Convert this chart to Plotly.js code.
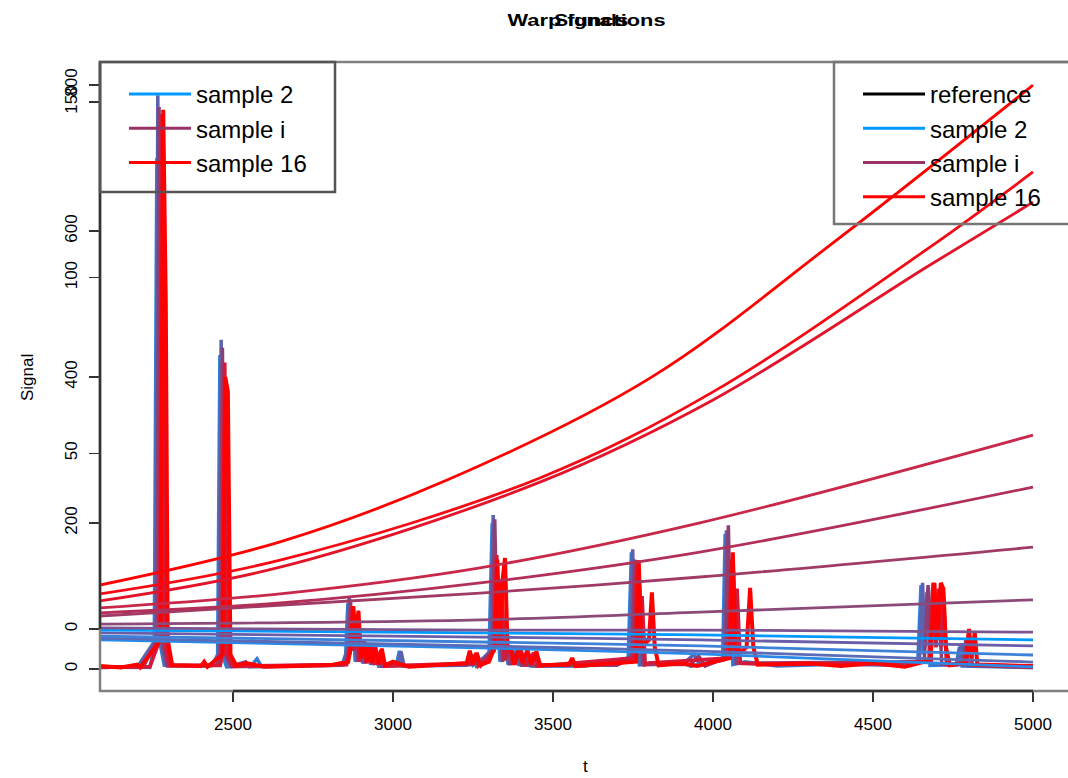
<!DOCTYPE html>
<html>
<head>
<meta charset="utf-8">
<script src="https://cdn.plot.ly/plotly-3.0.1.min.js"></script>
<style>html,body{margin:0;padding:0;background:#fff;}#chart{width:1068px;height:778px;}</style>
</head>
<body>
<div id="chart"></div>
<script>
// ---------- tick values ----------
const tTicks = [2500, 3000, 3500, 4000, 4500, 5000];
const signalTicks = [0, 200, 400, 600, 800];
const warpTicks = [0, 50, 100, 150];

// ---------- signals (t, signal) ----------
const signalSample2 = [[2084,2],[2180,3],[2240,2],[2254,30],[2262,700],[2270,40],[2285,5],[2420,4],[2440,8],[2452,20],[2459,430],[2466,20],[2480,3],[2560,6],[2575,14],[2590,3],[2840,5],[2852,20],[2859,90],[2866,20],[2875,60],[2882,10],[2895,30],[2905,8],[2920,25],[2930,6],[2945,20],[2955,4],[3010,5],[3020,25],[3030,4],[3230,5],[3240,18],[3250,5],[3300,20],[3310,200],[3318,30],[3326,100],[3334,10],[3350,30],[3360,6],[3380,24],[3392,5],[3420,20],[3430,4],[3600,4],[3735,15],[3745,160],[3753,20],[3760,110],[3770,6],[3800,8],[3900,10],[3930,4],[4030,12],[4038,185],[4046,20],[4052,130],[4062,6],[4100,10],[4200,4],[4640,10],[4650,115],[4657,20],[4668,105],[4678,5],[4760,6],[4770,30],[4778,4],[5000,2]];
const signalSampleB = [[2084,3],[2200,2],[2258,40],[2265,786],[2273,40],[2290,5],[2430,4],[2455,20],[2463,451],[2471,20],[2490,4],[2540,10],[2550,3],[2845,6],[2856,25],[2863,99],[2870,25],[2878,55],[2886,10],[2898,32],[2908,8],[2925,28],[2935,6],[2950,22],[2960,4],[3015,6],[3025,24],[3035,4],[3240,6],[3250,20],[3260,5],[3305,25],[3313,211],[3321,30],[3329,110],[3337,12],[3352,32],[3362,6],[3385,25],[3398,5],[3425,20],[3438,4],[3650,5],[3740,15],[3749,164],[3757,25],[3764,120],[3774,6],[3910,8],[3940,20],[3960,5],[4033,15],[4042,190],[4050,25],[4057,140],[4067,8],[4600,5],[4645,12],[4655,118],[4662,30],[4673,112],[4683,8],[4765,6],[4775,35],[4783,5],[5000,3]];
const signalSampleI = [[2084,2],[2220,3],[2262,40],[2269,770],[2277,40],[2295,4],[2450,5],[2459,20],[2467,440],[2475,20],[2495,3],[2850,6],[2860,25],[2867,95],[2874,25],[2882,55],[2890,10],[2902,30],[2912,8],[2928,26],[2938,6],[2955,20],[2965,4],[3245,6],[3255,18],[3265,4],[3310,25],[3318,205],[3326,30],[3334,105],[3342,10],[3357,30],[3367,6],[3390,24],[3402,5],[3700,5],[3746,15],[3755,150],[3763,25],[3771,115],[3781,6],[3930,6],[3955,18],[3975,4],[4038,15],[4048,197],[4056,25],[4064,135],[4074,8],[4660,10],[4672,115],[4680,30],[4690,118],[4698,30],[4705,100],[4715,6],[4780,6],[4790,40],[4798,5],[5000,2]];
const signalSampleC = [[2084,3],[2240,3],[2271,40],[2278,760],[2286,40],[2300,5],[2460,5],[2466,20],[2474,420],[2482,20],[2500,4],[2855,6],[2866,25],[2873,86],[2880,25],[2888,60],[2896,10],[2908,35],[2918,8],[2934,30],[2944,6],[2962,25],[2975,4],[3250,8],[3262,22],[3275,5],[3316,25],[3324,156],[3332,30],[3340,120],[3348,12],[3365,32],[3375,6],[3400,26],[3412,5],[3440,22],[3450,4],[3752,15],[3762,149],[3770,25],[3778,100],[3788,6],[3800,8],[4046,15],[4058,150],[4066,25],[4075,110],[4085,8],[4200,6],[4675,10],[4688,118],[4696,30],[4705,110],[4713,30],[4720,100],[4730,6],[4790,8],[4800,50],[4810,6],[5000,3]];
const signalSample16 = [[2084,4],[2150,2],[2200,6],[2210,2],[2274,40],[2282,766],[2290,500],[2296,40],[2310,5],[2400,4],[2410,10],[2420,3],[2468,20],[2476,400],[2484,380],[2492,20],[2510,5],[2540,8],[2600,3],[2800,5],[2860,10],[2868,30],[2876,86],[2884,40],[2892,80],[2900,15],[2910,40],[2918,10],[2926,35],[2934,8],[2945,30],[2955,6],[2965,28],[2975,5],[3000,10],[3050,3],[3230,8],[3240,25],[3250,6],[3260,22],[3270,5],[3300,10],[3318,30],[3326,150],[3334,40],[3342,120],[3350,152],[3358,30],[3370,28],[3380,6],[3395,30],[3405,8],[3420,26],[3432,6],[3448,24],[3460,5],[3550,6],[3560,15],[3570,4],[3760,10],[3768,149],[3776,30],[3800,40],[3809,105],[3818,30],[3830,5],[3900,8],[3950,4],[4052,15],[4062,160],[4070,30],[4080,20],[4105,30],[4116,111],[4126,30],[4140,6],[4300,8],[4400,4],[4500,8],[4600,3],[4680,12],[4692,118],[4700,40],[4712,118],[4720,110],[4728,30],[4740,5],[4790,8],[4800,55],[4808,15],[4818,50],[4826,6],[5000,4]];

// ---------- warp functions (t, warp) ----------
const warpRed1T = [2084, 2647, 3169, 3803, 4375, 5000];
const warpRed1 = [12.5, 24.8, 42.4, 71.4, 109.9, 154.8];
const warpRed23T = [2084, 2647, 3459, 4000, 4678, 5000];
const warpRed2 = [10.0, 19.6, 43.0, 67.5, 108.7, 130.1];
const warpRed3 = [8.0, 17.6, 41.8, 65.2, 103.6, 121.5];
const warpMidT = [2084, 2647, 3272, 3959, 5000];
const warpC1 = [6.0, 10.0, 17.4, 30.2, 55.2];
const warpC2 = [4.6, 7.4, 13.1, 21.9, 40.4];
const warpLowT = [2084, 3272, 3959, 5000];
const warpC3 = [3.7, 10.2, 14.8, 23.3];
const warpP1 = [1.4, 2.6, 4.8, 8.3];
const warpP2 = [0.3, -0.3, -0.3, -0.9];
const warpB1 = [-0.3, -1.1, -1.7, -3.1];
const warpP3 = [-1.1, -2.3, -3.1, -4.8];
const warpB2 = [-2.0, -3.7, -4.8, -7.4];
const warpB3 = [-2.6, -4.8, -6.3, -9.4];
const warpB4 = [-3.1, -5.4, -7.1, -10.8];

// ---------- legends ----------
const legendLeftNames = ['sample 2', 'sample i', 'sample 16'];
const legendLeftColors = ['#0099ff', '#993366', '#ff0000'];
const legendRightNames = ['reference', 'sample 2', 'sample i', 'sample 16'];
const legendRightColors = ['#000000', '#0099ff', '#993366', '#ff0000'];

const FONT = 'Liberation Sans, Arial, sans-serif';
const traces = [];

function sig(pairs, color, width) {
  traces.push({type:'scatter', mode:'lines', x:pairs.map(p=>p[0]), y:pairs.map(p=>p[1]),
    xaxis:'x', yaxis:'y', line:{color:color, width:width}, showlegend:false, hoverinfo:'skip'});
}
sig(signalSample2, '#2d7fd6', 3.5);
sig(signalSampleB, '#5d62b0', 3.5);
sig(signalSampleI, '#8e3f72', 3.5);
sig(signalSampleC, '#d41a3a', 3.8);
sig(signalSample16, '#ff0000', 4);

function warp(t, v, color) {
  traces.push({type:'scatter', mode:'lines', x:t, y:v, xaxis:'x', yaxis:'y2',
    line:{color:color, width:2.8, shape:'spline', smoothing:1}, showlegend:false, hoverinfo:'skip'});
}
warp(warpLowT, warpB4, '#2a8ae8');
warp(warpLowT, warpB3, '#5a6cb8');
warp(warpLowT, warpB2, '#3d82d8');
warp(warpLowT, warpP3, '#6a5ea8');
warp(warpLowT, warpB1, '#0099ff');
warp(warpLowT, warpP2, '#7c5590');
warp(warpLowT, warpP1, '#8c4a7a');
warp(warpLowT, warpC3, '#a03a66');
warp(warpMidT, warpC2, '#b23058');
warp(warpMidT, warpC1, '#c8284a');
warp(warpRed23T, warpRed3, '#e3142a');
warp(warpRed23T, warpRed2, '#f50a14');
warp(warpRed1T, warpRed1, '#ff0000');

legendLeftNames.forEach((n, i) => traces.push({type:'scatter', mode:'lines', x:[null], y:[null], name:n,
  line:{color:legendLeftColors[i], width:3}, legend:'legend', showlegend:true, hoverinfo:'skip'}));
legendRightNames.forEach((n, i) => traces.push({type:'scatter', mode:'lines', x:[null], y:[null], name:n,
  line:{color:legendRightColors[i], width:3}, legend:'legend2', showlegend:true, hoverinfo:'skip'}));

const yA = [-30.137, 831.507];
const yB = [-17.647, 161.385];
const axisCommon = {showgrid:false, zeroline:false, showline:false, ticks:'outside', ticklen:10, tickwidth:1.5,
  tickcolor:'#333', tickfont:{family:FONT, size:17, color:'#000'}};

const legendCommon = {xanchor:'left', yanchor:'top', bgcolor:'rgba(0,0,0,0)', borderwidth:0,
  font:{family:FONT, size:24, color:'#000'}, itemwidth:62, tracegroupgap:0};

const layout = {
  width:1068, height:778,
  margin:{l:100, r:0, t:62, b:87},
  paper_bgcolor:'#fff', plot_bgcolor:'#fff',
  font:{family:FONT, color:'#000'},
  xaxis:Object.assign({}, axisCommon, {range:[2084.375, 5109.375], tickvals:tTicks, ticktext:tTicks.map(String),
    ticklabelstandoff:8}),
  yaxis:Object.assign({}, axisCommon, {range:yA, tickvals:signalTicks, ticktext:signalTicks.map(String), tickangle:-90, ticklabelstandoff:5}),
  yaxis2:Object.assign({}, axisCommon, {range:yB, overlaying:'y', side:'left', tickvals:warpTicks, ticktext:warpTicks.map(String), tickangle:-90, ticklabelstandoff:5}),
  legend:Object.assign({}, legendCommon, {x:24/968, y:(691-72)/629}),
  legend2:Object.assign({}, legendCommon, {x:758/968, y:(691-72)/629}),
  shapes:[
    {type:'rect', xref:'paper', yref:'paper', x0:0, x1:1.2, y0:0, y1:1, line:{color:'#808080', width:2.5}, layer:'above'},
    {type:'line', xref:'paper', yref:'y2', x0:0, x1:0, y0:warpTicks[0], y1:yB[1], line:{color:'#333', width:2.5}, layer:'above'},
    {type:'line', xref:'x', yref:'paper', x0:tTicks[0], x1:tTicks[tTicks.length-1], y0:0, y1:0, line:{color:'#333', width:2.5}, layer:'above'},
    {type:'rect', xref:'paper', yref:'paper', x0:0, x1:235/968, y0:(691-192)/629, y1:1, line:{color:'#555', width:2.5}, layer:'above'},
    {type:'rect', xref:'paper', yref:'paper', x0:734/968, x1:1.2, y0:(691-224)/629, y1:1, line:{color:'#777', width:2.5}, layer:'above'}
  ],
  annotations:[
    {text:'Warp functions', xref:'paper', yref:'paper', x:(586-100)/968, y:(691-20)/629, showarrow:false,
      font:{family:FONT, size:17, weight:700, color:'#000'}, xanchor:'center', yanchor:'middle'},
    {text:'Signals', xref:'paper', yref:'paper', x:(591-100)/968, y:(691-20)/629, showarrow:false,
      font:{family:FONT, size:17, weight:700, color:'#000'}, xanchor:'center', yanchor:'middle'},
    {text:'Signal', xref:'paper', yref:'paper', x:(28-100)/968, y:(691-378)/629, showarrow:false, textangle:-90,
      font:{family:FONT, size:17, color:'#000'}, xanchor:'center', yanchor:'middle'},
    {text:'t', xref:'paper', yref:'paper', x:(585-100)/968, y:(691-766)/629, showarrow:false,
      font:{family:FONT, size:17, color:'#000'}, xanchor:'center', yanchor:'middle'}
  ],
  showlegend:true
};

Plotly.newPlot('chart', traces, layout, {staticPlot:true, displayModeBar:false}).then(() => {
  document.querySelectorAll('.annotation-text').forEach(el => {
    if (el.textContent === 'Warp functions') { el.setAttribute('textLength', '158'); el.setAttribute('lengthAdjust', 'spacingAndGlyphs'); }
    if (el.textContent === 'Signals') { el.setAttribute('textLength', '74'); el.setAttribute('lengthAdjust', 'spacingAndGlyphs'); }
  });
});
</script>
</body>
</html>
